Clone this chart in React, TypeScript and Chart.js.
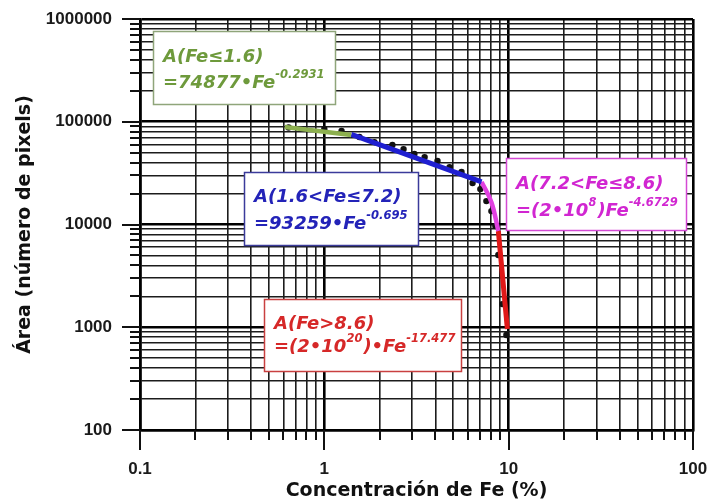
import React, { useEffect, useRef } from 'react';
import { Chart, registerables } from 'chart.js';

Chart.register(...registerables);

// Measured points: Fe concentration (%) vs. area (pixel count)
const dotFe = [0.64, 1.0, 1.24, 1.55, 1.87, 2.34, 2.69, 3.08, 3.5, 4.11, 4.78, 5.55, 6.37, 7.02, 7.57, 8.06, 8.47, 8.79, 9.24, 9.72];
const dotArea = [88000, 84900, 81200, 71000, 63400, 59300, 54200, 48500, 45300, 41500, 36200, 32400, 25300, 22100, 16900, 13500, 9660, 5050, 1680, 840];

// Power-law fit segments
const fitLowFe = [0.61, 1.4];
const fitLowArea = [88800, 74200];
const fitMidFe = [1.4, 7.13];
const fitMidArea = [75500, 26000];
const fitHighFe = [7.13, 8.06, 8.79];
const fitHighArea = [26000, 16500, 8630];
const fitTopFe = [8.79, 9.84];
const fitTopArea = [8630, 960];

// Axis ranges and labelled ticks
const xDecades = [0.1, 1, 10, 100];
const yDecades = [100, 1000, 10000, 100000, 1000000];
const xTickLabels = ['0.1', '1', '10', '100'];
const yTickLabels = ['100', '1000', '10000', '100000', '1000000'];

type Run = { t: string; sup?: boolean };

// Equation labels for each fit range
const eqLow: Run[][] = [[{ t: 'A(Fe≤1.6)' }], [{ t: '=74877•Fe' }, { t: '-0.2931', sup: true }]];
const eqMid: Run[][] = [[{ t: 'A(1.6<Fe≤7.2)' }], [{ t: '=93259•Fe' }, { t: '-0.695', sup: true }]];
const eqHigh: Run[][] = [
  [{ t: 'A(7.2<Fe≤8.6)' }],
  [{ t: '=(2•10' }, { t: '8', sup: true }, { t: ')Fe' }, { t: '-4.6729', sup: true }],
];
const eqTop: Run[][] = [
  [{ t: 'A(Fe>8.6)' }],
  [{ t: '=(2•10' }, { t: '20', sup: true }, { t: ')•Fe' }, { t: '-17.477', sup: true }],
];

// Label boxes: anchored (top-left) in data coordinates, sized in pixels
const notes = [
  { fe: 0.118, area: 764000, w: 183, h: 74, ink: '#6e9a3c', edge: '#8fa57a', base: [31, 57], lines: eqLow },
  { fe: 0.368, area: 32400, w: 175, h: 74, ink: '#2323b8', edge: '#3b3b9b', base: [30, 57], lines: eqMid },
  { fe: 9.72, area: 44400, w: 181, h: 73, ink: '#d126d1', edge: '#d44ad4', base: [31, 58], lines: eqHigh },
  { fe: 0.4725, area: 1882, w: 198, h: 73, ink: '#d62828', edge: '#c94040', base: [30, 53], lines: eqTop },
];

const isDecade = (v: number) => {
  if (!(v > 0)) return false;
  const l = Math.log10(v);
  return Math.abs(l - Math.round(l)) < 1e-6;
};

const logTicks = (decades: number[]) => {
  const out: { value: number; major: boolean }[] = [];
  for (let i = 0; i < decades.length - 1; i++) {
    for (let k = 1; k <= 9; k++) {
      const v = parseFloat((decades[i] * k).toPrecision(6));
      out.push({ value: v, major: k === 1 });
    }
  }
  out.push({ value: decades[decades.length - 1], major: true });
  return out;
};

const labelFor = (labels: string[]) => (value: number | string) => {
  const v = Number(value);
  const hit = labels.find((l) => Math.abs(Math.log10(Number(l)) - Math.log10(v)) < 1e-6);
  return hit ?? '';
};

const pts = (xs: number[], ys: number[]) => xs.map((x, i) => ({ x, y: ys[i] }));

const tickFont = { family: '"Liberation Sans", Arial, sans-serif', weight: 'bold' as const, size: 17 };
const titleFont = { family: '"DejaVu Sans", sans-serif', weight: 'bold' as const, size: 19 };

const gridStyle = {
  color: (c: any) => (isDecade(c.tick?.value) ? '#000' : '#1c1c1c'),
  lineWidth: (c: any) => (isDecade(c.tick?.value) ? 2.6 : 1.6),
  drawTicks: true,
  tickLength: 20,
  tickColor: 'rgba(0,0,0,0)',
};

const marksAndNotes = {
  id: 'marksAndNotes',
  afterDraw(chart: any) {
    const { ctx, chartArea } = chart;
    const xs = chart.scales.x;
    const ys = chart.scales.y;

    // outward tick marks, long at decades
    ctx.save();
    ctx.strokeStyle = '#111';
    ctx.lineWidth = 2;
    ctx.beginPath();
    xs.ticks.forEach((t: any) => {
      const px = Math.round(xs.getPixelForValue(t.value));
      const len = isDecade(t.value) ? 20 : 10;
      ctx.moveTo(px, chartArea.bottom);
      ctx.lineTo(px, chartArea.bottom + len);
    });
    ys.ticks.forEach((t: any) => {
      const py = Math.round(ys.getPixelForValue(t.value));
      const len = isDecade(t.value) ? 18 : 10;
      ctx.moveTo(chartArea.left, py);
      ctx.lineTo(chartArea.left - len, py);
    });
    ctx.stroke();
    ctx.restore();

    // equation boxes
    const mainFont = 'italic bold 18px "DejaVu Sans", sans-serif';
    const supFont = 'italic bold 11.5px "DejaVu Sans", sans-serif';
    notes.forEach((n) => {
      const x0 = Math.round(xs.getPixelForValue(n.fe));
      const y0 = Math.round(ys.getPixelForValue(n.area));
      ctx.save();
      ctx.fillStyle = '#fff';
      ctx.fillRect(x0, y0, n.w, n.h);
      ctx.strokeStyle = n.edge;
      ctx.lineWidth = 1.5;
      ctx.strokeRect(x0 + 0.5, y0 + 0.5, n.w - 1, n.h - 1);
      ctx.fillStyle = n.ink;
      ctx.textBaseline = 'alphabetic';
      ctx.textAlign = 'left';
      n.lines.forEach((line, li) => {
        let cx = x0 + 10;
        const by = y0 + n.base[li];
        line.forEach((r) => {
          ctx.font = r.sup ? supFont : mainFont;
          ctx.fillText(r.t, cx, r.sup ? by - 10 : by);
          cx += ctx.measureText(r.t).width + (r.sup ? 1 : 0);
        });
      });
      ctx.restore();
    });
  },
};

export default function App() {
  const ref = useRef<HTMLCanvasElement>(null);

  useEffect(() => {
    if (!ref.current) return;
    const chart = new Chart(ref.current, {
      type: 'scatter',
      data: {
        datasets: [
          {
            data: pts(fitLowFe, fitLowArea),
            showLine: true,
            borderColor: '#8db04f',
            borderWidth: 4.5,
            pointRadius: 0,
          },
          {
            data: pts(fitMidFe, fitMidArea),
            showLine: true,
            borderColor: '#1f1fd0',
            borderWidth: 5,
            pointRadius: 0,
          },
          {
            data: pts(fitHighFe, fitHighArea),
            showLine: true,
            borderColor: '#e040e0',
            borderWidth: 4.5,
            pointRadius: 0,
            tension: 0.4,
          },
          {
            data: pts(fitTopFe, fitTopArea),
            showLine: true,
            borderColor: '#e01818',
            borderWidth: 5,
            pointRadius: 0,
          },
          {
            data: pts(dotFe, dotArea),
            pointRadius: 3.2,
            pointBackgroundColor: '#111',
            pointBorderWidth: 0,
          },
        ],
      },
      options: {
        animation: false,
        responsive: false,
        devicePixelRatio: 1,
        layout: { padding: { top: 19, right: 14, left: 0, bottom: 0 } },
        plugins: { legend: { display: false }, tooltip: { enabled: false } },
        scales: {
          x: {
            type: 'logarithmic',
            position: 'bottom',
            min: xDecades[0],
            max: xDecades[xDecades.length - 1],
            afterBuildTicks: (s: any) => {
              s.ticks = logTicks(xDecades);
            },
            afterFit: (s: any) => {
              s.height = 73;
              s.paddingLeft = 0;
              s.paddingRight = 0;
            },
            ticks: {
              autoSkip: false,
              maxRotation: 0,
              padding: 9,
              color: '#1a1a1a',
              font: tickFont,
              callback: labelFor(xTickLabels),
            },
            grid: gridStyle as any,
            border: { display: true, color: '#000', width: 2.6 },
            title: {
              display: true,
              text: 'Concentración de Fe (%)',
              color: '#111',
              font: titleFont,
              padding: { top: 0, bottom: 1 },
            },
          },
          y: {
            type: 'logarithmic',
            position: 'left',
            min: yDecades[0],
            max: yDecades[yDecades.length - 1],
            afterBuildTicks: (s: any) => {
              s.ticks = logTicks(yDecades);
            },
            afterFit: (s: any) => {
              s.width = 140;
              s.paddingTop = 0;
              s.paddingBottom = 0;
            },
            ticks: {
              autoSkip: false,
              padding: 8,
              color: '#1a1a1a',
              font: tickFont,
              callback: labelFor(yTickLabels),
            },
            grid: gridStyle as any,
            border: { display: true, color: '#000', width: 2.6 },
            title: {
              display: true,
              text: 'Área (número de pixels)',
              color: '#111',
              font: titleFont,
              padding: { top: 14, bottom: 0 },
            },
          },
        },
      },
      plugins: [marksAndNotes],
    });
    return () => chart.destroy();
  }, []);

  return (
    <div style={{ position: 'absolute', left: 0, top: 0, width: 707, height: 503, background: '#fff' }}>
      <canvas ref={ref} width={707} height={503} style={{ display: 'block' }} />
    </div>
  );
}
